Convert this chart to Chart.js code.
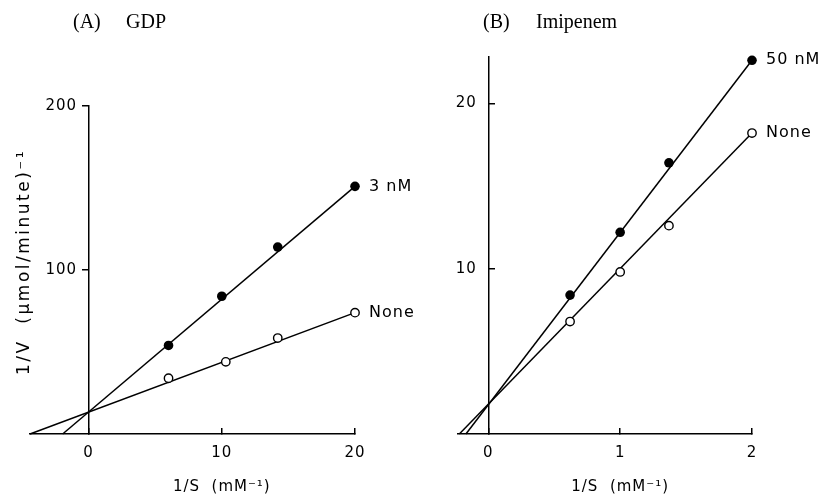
<!DOCTYPE html>
<html>
<head>
<meta charset="utf-8">
<script src="https://cdn.jsdelivr.net/npm/chart.js@4.4.0/dist/chart.umd.min.js"></script>
<style>
  html, body { margin: 0; padding: 0; background: #fff; }
  #wrap { position: relative; width: 819px; height: 496px; }
  .panel { position: absolute; top: 0; height: 496px; }
  #panelA { left: 0; width: 440px; z-index: 2; }
  #panelB { left: 410px; width: 409px; z-index: 1; }
</style>
</head>
<body>
<div id="wrap">
  <div class="panel" id="panelA"><canvas id="gdpChart"></canvas></div>
  <div class="panel" id="panelB"><canvas id="imiChart"></canvas></div>
</div>
<script>
// (A) GDP - measured points
const gdpX3nM = [6, 10, 14.2, 20];
const gdpY3nM = [54, 84, 114, 151];
const gdpXNone = [6, 10.3, 14.2, 20];
const gdpYNone = [34, 44, 58.5, 74];
// fitted lines, from x intercept to last point
const gdpFitX3nM = [-1.95, 20];
const gdpFitY3nM = [0, 151];
const gdpFitXNone = [-4.4, 20];
const gdpFitYNone = [0, 74];
const gdpXTicks = [0, 10, 20];
const gdpYTicks = [100, 200];

// (B) Imipenem
const imiX = [0.62, 1.0, 1.37, 2.0];
const imiY50nM = [8.4, 12.2, 16.4, 22.6];
const imiYNone = [6.8, 9.8, 12.6, 18.2];
const imiFitX50nM = [-0.17, 2.0];
const imiFitY50nM = [0, 22.6];
const imiFitXNone = [-0.22, 2.0];
const imiFitYNone = [0, 18.2];
const imiXTicks = [0, 1, 2];
const imiYTicks = [10, 20];

function pts(xs, ys) {
  return xs.map((x, i) => ({ x: x, y: ys[i] }));
}

function markDataset(xs, ys, filled, label) {
  return {
    data: pts(xs, ys),
    showLine: false,
    pointRadius: filled ? 4.8 : 4.2,
    pointBackgroundColor: filled ? '#000' : '#fff',
    pointBorderColor: '#000',
    pointBorderWidth: filled ? 0 : 1.4,
    endLabel: label,
    order: 0,
    clip: false
  };
}

function fitDataset(xs, ys) {
  return {
    data: pts(xs, ys),
    showLine: true,
    borderColor: '#000',
    borderWidth: 1.5,
    pointRadius: 0,
    order: 1,
    clip: false
  };
}

// panel titles, axis titles and the labels at the end of each series
const annotate = {
  id: 'annotate',
  beforeLayout(chart) { chart.ctx.letterSpacing = '1px'; },
  beforeDraw(chart) { chart.ctx.letterSpacing = '1px'; },
  afterDraw(chart, args, opts) {
    const ctx = chart.ctx;
    const xs = chart.scales.x;
    const ys = chart.scales.y;
    ctx.save();
    ctx.fillStyle = '#000';

    // panel title (serif)
    ctx.letterSpacing = '0px';
    ctx.font = '20px "Liberation Serif"';
    ctx.textBaseline = 'middle';
    ctx.textAlign = 'left';
    ctx.fillText(opts.letter, opts.titleX, 23);
    ctx.fillText(opts.title, opts.titleX + 53, 23);

    // end labels
    ctx.letterSpacing = '1px';
    ctx.font = '16px "DejaVu Sans"';
    chart.data.datasets.forEach(ds => {
      if (!ds.endLabel) return;
      const last = ds.data[ds.data.length - 1];
      ctx.fillText(ds.endLabel, xs.getPixelForValue(last.x) + 14, ys.getPixelForValue(last.y));
    });

    // x axis title, centred under the tick range
    const ticks = opts.xTicks;
    const cx = (xs.getPixelForValue(ticks[0]) + xs.getPixelForValue(ticks[ticks.length - 1])) / 2;
    ctx.textAlign = 'center';
    ctx.font = '15px "DejaVu Sans"';
    ctx.fillText('1/S  (mM\u207B\u00B9)', cx, 487);

    // y axis title
    if (opts.yTitle) {
      ctx.translate(25, (ys.top + ys.bottom) / 2 - 8);
      ctx.rotate(-Math.PI / 2);
      ctx.letterSpacing = '2.5px';
      ctx.font = '17px "DejaVu Sans"';
      ctx.fillText(opts.yTitle, 0, 0);
    }
    ctx.restore();
  }
};

function axisOpts(min, max, tickList, extra) {
  return Object.assign({
    type: 'linear',
    min: min,
    max: max,
    afterBuildTicks: s => { s.ticks = tickList.map(v => ({ value: v })); },
    grid: { drawOnChartArea: false, drawTicks: true, color: '#000', lineWidth: 1.5 },
    border: { display: true, color: '#000', width: 1.5 },
    ticks: { color: '#000', font: { family: 'DejaVu Sans', size: 15 } }
  }, extra);
}

function makeChart(id, datasets, scales, padding, annot) {
  return new Chart(document.getElementById(id), {
    type: 'scatter',
    data: { datasets: datasets },
    options: {
      responsive: true,
      maintainAspectRatio: false,
      animation: false,
      layout: { padding: padding },
      plugins: {
        legend: { display: false },
        tooltip: { enabled: false },
        annotate: annot
      },
      scales: scales
    },
    plugins: [annotate]
  });
}

// y labels sit right-aligned on the axis line, so pad them on the right
const yLabel = v => v + '  ';

document.addEventListener('DOMContentLoaded', function() {
  // (A) GDP
  const xA = axisOpts(-4.4, 20, gdpXTicks, { position: 'bottom', afterFit: s => { s.height = 62; } });
  xA.grid.tickLength = -6;
  xA.ticks.padding = 16;
  const yA = axisOpts(0, 200, gdpYTicks, { position: { x: 0 } });
  yA.grid.tickLength = 6;
  yA.ticks.callback = yLabel;

  makeChart('gdpChart', [
    markDataset(gdpX3nM, gdpY3nM, true, '3 nM'),
    markDataset(gdpXNone, gdpYNone, false, 'None'),
    fitDataset(gdpFitX3nM, gdpFitY3nM),
    fitDataset(gdpFitXNone, gdpFitYNone)
  ], { x: xA, y: yA }, { left: 30, right: 85, top: 106, bottom: 0 },
  { letter: '(A)', title: 'GDP', titleX: 73, xTicks: gdpXTicks, yTitle: '1/V  (\u03BCmol/minute)\u207B\u00B9' });

  // (B) Imipenem
  const xB = axisOpts(-0.23, 2, imiXTicks, { position: 'bottom', afterFit: s => { s.height = 62; } });
  xB.grid.tickLength = -6;
  xB.ticks.padding = 16;
  const yB = axisOpts(0, 22.8, imiYTicks, { position: { x: 0 } });
  yB.grid.tickLength = -7;
  yB.ticks.callback = yLabel;

  makeChart('imiChart', [
    markDataset(imiX, imiY50nM, true, '50 nM'),
    markDataset(imiX, imiYNone, false, 'None'),
    fitDataset(imiFitX50nM, imiFitY50nM),
    fitDataset(imiFitXNone, imiFitYNone)
  ], { x: xB, y: yB }, { left: 48, right: 67, top: 57, bottom: 0 },
  { letter: '(B)', title: 'Imipenem', titleX: 73, xTicks: imiXTicks, yTitle: null });
});
</script>
</body>
</html>
